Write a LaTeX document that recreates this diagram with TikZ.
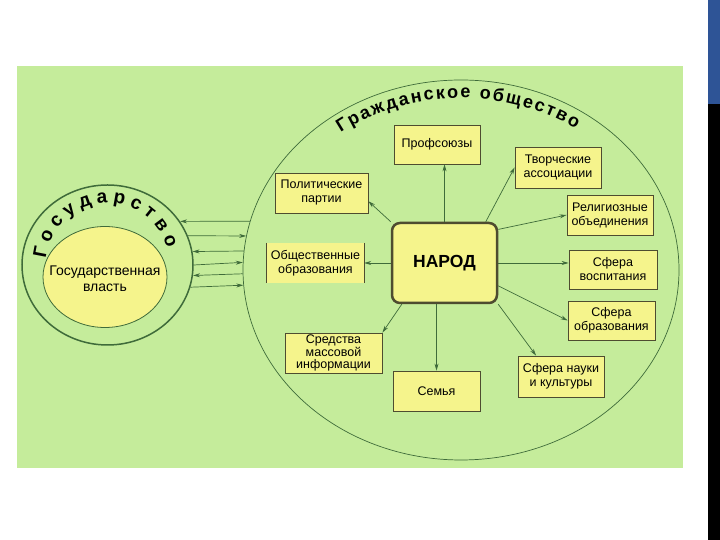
\documentclass[tikz,border=0pt]{standalone}
\usepackage{fontspec}
\setmainfont{Liberation Sans}
\usetikzlibrary{shapes.geometric, arrows.meta, decorations.text}

\definecolor{panelgreen}{HTML}{C5EC9B}
\definecolor{boxyellow}{HTML}{F5F48C}
\definecolor{linegreen}{HTML}{3F6B3A}
\definecolor{boxborder}{HTML}{4E4C30}
\definecolor{slideblue}{HTML}{2E5496}

\tikzset{
  box/.style={draw=boxborder, line width=0.8pt, fill=boxyellow, inner sep=0pt,
    align=center, font=\fontsize{12.5}{14}\selectfont},
  sidebox/.style={fill=boxyellow, inner sep=0pt, align=center,
    font=\fontsize{12.5}{14}\selectfont},
  arr/.style={draw=linegreen, line width=0.7pt, -{Stealth[length=7pt,width=4pt]}}
}

\begin{document}
\begin{tikzpicture}[x=1pt, y=1pt]
  \useasboundingbox (0,0) rectangle (720,540);

  % slide and panel
  \fill[white] (0,0) rectangle (720,540);
  \fill[panelgreen] (17,72) rectangle (683,474);
  \fill[slideblue] (708,436) rectangle (720,540);
  \fill[black] (708,0) rectangle (720,436);

  % state
  \node[ellipse, draw=linegreen, line width=1.5pt, minimum width=171pt, minimum height=160pt] (state) at (107.5,275) {};
  \node[ellipse, draw=linegreen, line width=0.8pt, fill=boxyellow, inner sep=0pt,
    minimum width=124pt, minimum height=101pt] (power) at (105,263) {};
  \node[align=center, font=\fontsize{14}{16}\selectfont] (powertext) at ([yshift=-2pt]power.center) {Государственная\\власть};
  \path[decorate, decoration={text along path, text align={fit to path},
      text={|\fontsize{19}{19}\bfseries|Государство}}]
    ([shift={(174:62)}]state.center) arc[start angle=174, end angle=16, radius=62];

  % civil society
  \node[ellipse, draw=linegreen, line width=0.7pt, minimum width=436pt, minimum height=380pt] (society) at (461,270) {};
  \path[decorate, decoration={text along path, text align={fit to path},
      text={|\fontsize{18}{18}\bfseries|Гражданское общество}}]
    ([shift={(127:200 and 172)}]society.center) arc[start angle=127, end angle=55, x radius=200, y radius=172];

  % links between state and society
  \draw[arr] (society.167) -- (state.31.6);
  \draw[arr] (state.20) -- (society.171);
  \draw[arr] (society.175) -- (state.9.4);
  \draw[arr] (state.0.7) -- (society.178.4);
  \draw[arr] (society.181.6) -- (state.-7.4);
  \draw[arr] (state.-15) -- (society.184.5);

  % people in the middle
  \node[box, minimum width=105pt, minimum height=80pt, rounded corners=8pt, line width=2.5pt,
    font=\fontsize{17.5}{17.5}\bfseries] (narod) at (444.5,277) {НАРОД};

  % groups round the people
  \node[box, minimum width=86pt, minimum height=39pt] (prof) at (437,395.5) {Профсоюзы};
  \node[box, minimum width=86pt, minimum height=41pt] (creat) at (558,372.5) {Творческие\\ассоциации};
  \node[box, minimum width=93pt, minimum height=40pt] (polit) at (321.5,347) {Политические\\партии};
  \node[box, minimum width=86pt, minimum height=40pt] (relig) at (610,325) {Религиозные\\объединения};
  \node[sidebox, minimum width=97pt, minimum height=40pt] (obsh) at (315.5,277) {Общественные\\образования};
  \draw[boxborder, line width=0.8pt] (obsh.north west) -- (obsh.south west);
  \draw[boxborder, line width=0.8pt] (obsh.north east) -- (obsh.south east);
  \node[box, minimum width=88pt, minimum height=39pt] (vosp) at (613,270.5) {Сфера\\воспитания};
  \node[box, minimum width=87pt, minimum height=39pt] (obraz) at (611.5,219.5) {Сфера\\образования};
  \node[box, minimum width=97pt, minimum height=40pt, font=\fontsize{12.5}{12.5}\selectfont] (smi) at (333.5,187) {Средства\\массовой\\информации};
  \node[box, minimum width=87pt, minimum height=40pt] (semya) at (436.5,149) {Семья};
  \node[box, minimum width=86pt, minimum height=41pt] (nauka) at (561,163.5) {Сфера науки\\и культуры};

  % arrows from the people
  \draw[arr] (narod.north) -- (narod.north |- prof.south);
  \draw[arr] (narod.north west) -- (polit.-10);
  \draw[arr] (narod.45) -- (creat.west);
  \draw[arr] (narod.32) -- (relig.west);
  \draw[arr] (narod.west) -- (obsh.east);
  \draw[arr] (narod.east) -- (narod.east -| vosp.west);
  \draw[arr] (narod.-23) -- (obraz.west);
  \draw[arr] (narod.south east) -- (nauka.140);
  \draw[arr] (narod.south -| semya.north) -- (semya.north);
  \draw[arr] (narod.224) -- (smi.north east);
\end{tikzpicture}
\end{document}
